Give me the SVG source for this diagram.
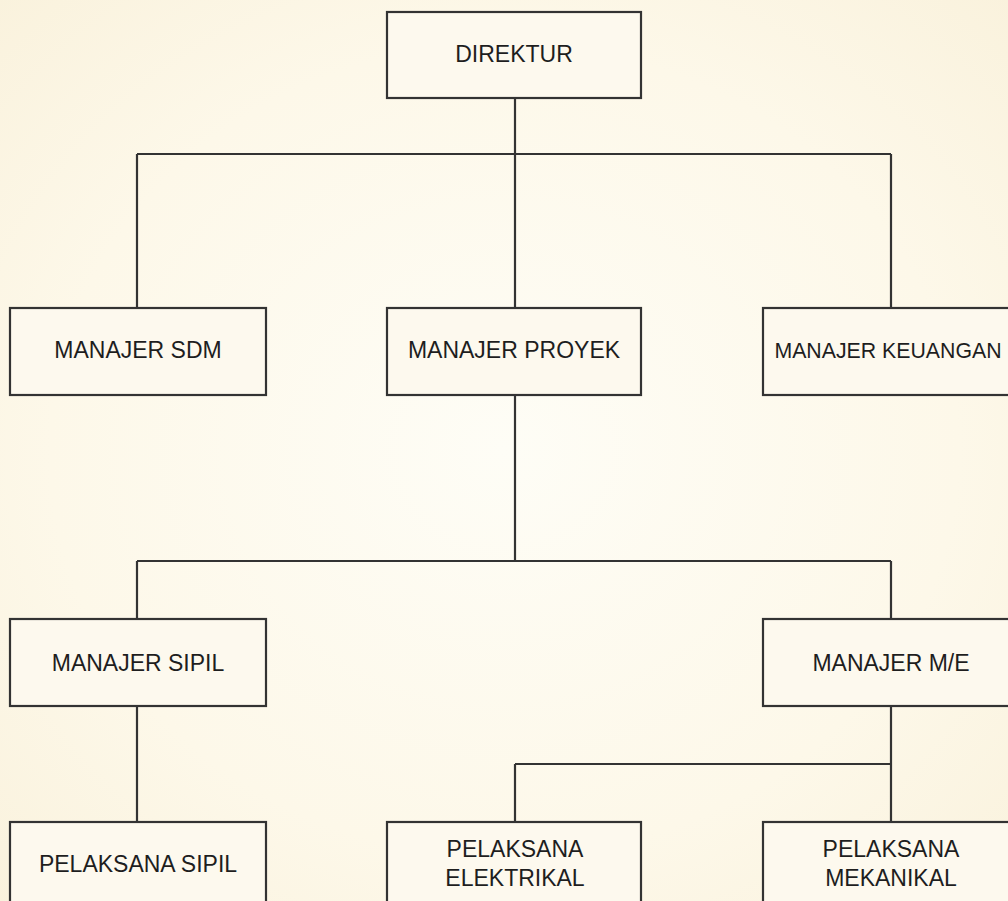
<svg xmlns="http://www.w3.org/2000/svg" width="1008" height="901" viewBox="0 0 1008 901">
<defs>
<radialGradient id="bg" cx="50%" cy="50%" r="75%">
<stop offset="0" stop-color="#fefdf6"/>
<stop offset="0.6" stop-color="#fdf8e9"/>
<stop offset="1" stop-color="#f9f1db"/>
</radialGradient>
<style>
.box{fill:#fdf9ee;stroke:#333;stroke-width:2.2}
.lbl{font-family:"Liberation Sans",Arial,sans-serif;font-size:23px;fill:#1e1e1e;text-anchor:middle}
.con{stroke:#333;stroke-width:2.2;fill:none}
</style>
</defs>
<rect width="1008" height="901" fill="url(#bg)"/>
<g id="connectors">
<path class="con" d="M515 98V154M137 154H891M137 154V308M515 154V308M891 154V308"/>
<path class="con" d="M515 395V561M137 561H891M137 561V619M891 561V619"/>
<path class="con" d="M137 706V822M891 706V822M515 764H891M515 764V822"/>
</g>
<g id="direktur"><rect class="box" x="387" y="12" width="254" height="86"/><text class="lbl" x="514" y="62">DIREKTUR</text></g>
<g id="manajer-sdm"><rect class="box" x="10" y="308" width="256" height="87"/><text class="lbl" x="138" y="358">MANAJER SDM</text></g>
<g id="manajer-proyek"><rect class="box" x="387" y="308" width="254" height="87"/><text class="lbl" x="514" y="358">MANAJER PROYEK</text></g>
<g id="manajer-keuangan"><rect class="box" x="763" y="308" width="256" height="87"/><text class="lbl" x="888" y="358" style="font-size:21.3px">MANAJER KEUANGAN</text></g>
<g id="manajer-sipil"><rect class="box" x="10" y="619" width="256" height="87"/><text class="lbl" x="138" y="671">MANAJER SIPIL</text></g>
<g id="manajer-me"><rect class="box" x="763" y="619" width="256" height="87"/><text class="lbl" x="891" y="671">MANAJER M/E</text></g>
<g id="pelaksana-sipil"><rect class="box" x="10" y="822" width="256" height="100"/><text class="lbl" x="138" y="872">PELAKSANA SIPIL</text></g>
<g id="pelaksana-elektrikal"><rect class="box" x="387" y="822" width="254" height="100"/><text class="lbl" x="515" y="857">PELAKSANA</text><text class="lbl" x="515" y="886">ELEKTRIKAL</text></g>
<g id="pelaksana-mekanikal"><rect class="box" x="763" y="822" width="256" height="100"/><text class="lbl" x="891" y="857">PELAKSANA</text><text class="lbl" x="891" y="886">MEKANIKAL</text></g>
</svg>
